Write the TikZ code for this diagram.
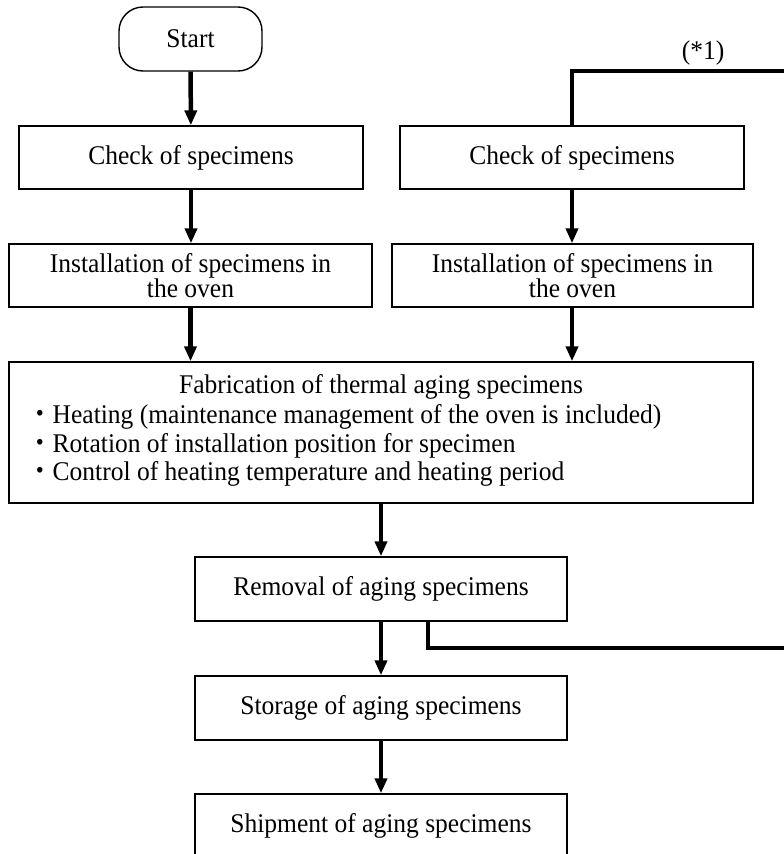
\documentclass[tikz,border=0pt]{standalone}
\usepackage{fontspec}
\setmainfont[FakeStretch=0.945]{Liberation Serif}
\newfontfamily\cjkjp[FakeStretch=0.945]{Noto Sans CJK JP}
\usetikzlibrary{arrows.meta,calc}

\begin{document}
\begin{tikzpicture}[x=1pt,y=-1pt,
  procbox/.style={draw, line width=1.4pt, inner sep=0pt, align=center,
    font=\fontsize{27}{25}\selectfont},
  termbox/.style={procbox, rounded corners=24pt},
  label/.style={inner sep=0pt, font=\fontsize{27}{25}\selectfont},
  flow/.style={line width=4.5pt, -{Triangle[length=15pt,width=12pt]}},
  loopline/.style={line width=4pt}]

\useasboundingbox (0,0) rectangle (784,854);
\clip (0,0) rectangle (784,854);

% left branch
\node[termbox, minimum width=143pt, minimum height=64pt] (start) at (190.5,39) {Start};
\node[procbox, minimum width=344pt, minimum height=63pt] (checkL) at (191,157.5) {Check of specimens};
\node[procbox, minimum width=363pt, minimum height=63pt] (instL) at (190.5,275.5)
  {Installation of specimens in\\the oven};

% right branch
\node[procbox, minimum width=344pt, minimum height=63pt] (checkR) at (572,157.5) {Check of specimens};
\node[procbox, minimum width=361pt, minimum height=63pt] (instR) at (572.5,275.5)
  {Installation of specimens in\\the oven};

% fabrication step
\node[procbox, minimum width=744pt, minimum height=141pt] (fab) at (381,432.5) {};
\node[label] (fabTitle) at (381,387) {Fabrication of thermal aging specimens};
\node[label, anchor=west] (fabA) at (27,417) {{\cjkjp ・}Heating (maintenance management of the oven is included)};
\node[label, anchor=west] (fabB) at (27,446) {{\cjkjp ・}Rotation of installation position for specimen};
\node[label, anchor=west] (fabC) at (27,474) {{\cjkjp ・}Control of heating temperature and heating period};

% final steps
\node[procbox, minimum width=372pt, minimum height=64pt] (removal) at (381,589) {Removal of aging specimens};
\node[procbox, minimum width=372pt, minimum height=64pt] (storage) at (381,708) {Storage of aging specimens};
\node[procbox, minimum width=372pt, minimum height=64pt] (shipment) at (381,826) {Shipment of aging specimens};

% main flow
\draw[flow] (start) -- (checkL);
\draw[flow] (checkL) -- (checkL |- instL.north);
\draw[flow] (instL.south) -- (instL.south |- fab.north);
\draw[flow] (checkR) -- (checkR |- instR.north);
\draw[flow] (checkR |- instR.south) -- (checkR |- fab.north);
\draw[flow] (fab) -- (removal);
\draw[flow] (removal) -- (storage);
\draw[flow] (storage) -- (shipment);

% return loop (*1)
\coordinate (loopTop) at (784,71);
\coordinate (loopBot) at (784,648);
\coordinate (loopOut) at ($(removal.south)+(47,0)$);
\draw[loopline] (checkR.north) |- (loopTop);
\draw[loopline] (loopOut) |- (loopBot);
\node[label] (mark) at (703,53) {(*1)};

\end{tikzpicture}
\end{document}
